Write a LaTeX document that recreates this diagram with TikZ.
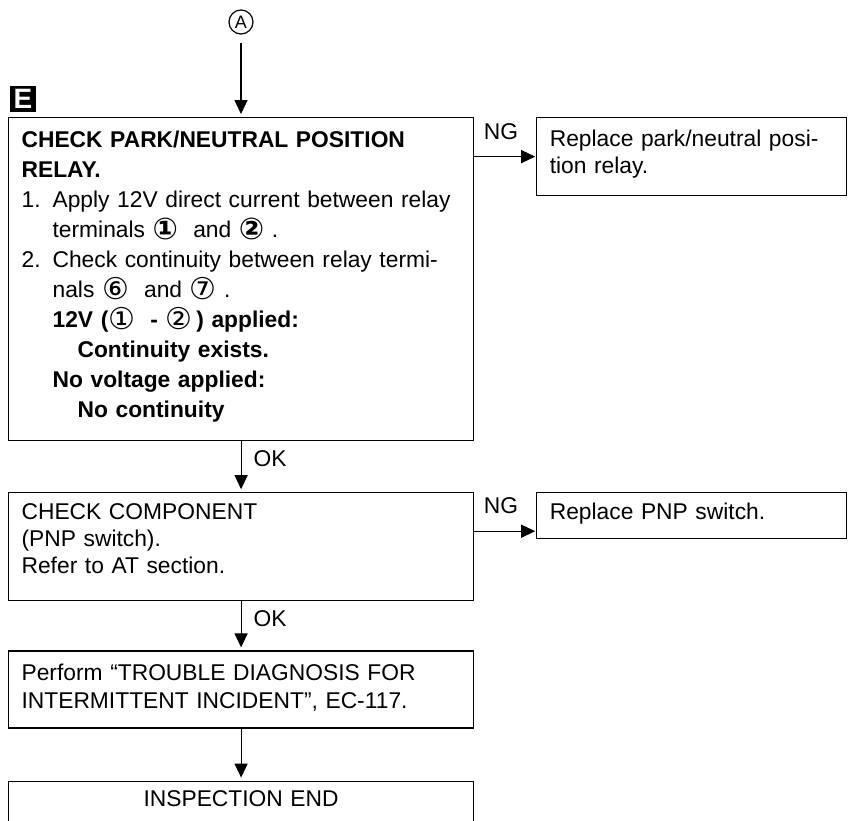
\documentclass[tikz,border=0pt]{standalone}
\usepackage{fontspec}
\setmainfont{Liberation Sans}
\newfontfamily\circfont{DejaVu Sans}
\usetikzlibrary{arrows.meta,positioning}
\newcommand{\circno}[1]{\smash{\raisebox{-1pt}{\circfont\mdseries\fontsize{15}{15}\selectfont #1}}}
\newcommand{\circbf}[1]{\smash{\raisebox{-1pt}{\circfont\bfseries\fontsize{15}{15}\selectfont #1}}}
\newcommand{\stepno}[1]{\makebox[15.5pt][l]{#1}}
\newcommand{\indA}{\hspace*{15.5pt}}
\newcommand{\indB}{\hspace*{28pt}}

\begin{document}
\begin{tikzpicture}[x=0.5pt, y=-0.5pt,
  every node/.style={font=\fontsize{11.4}{13.5}\selectfont},
  stepbox/.style={draw, line width=0.6pt, align=left, text width=219.5pt,
                  inner xsep=6.5pt, inner ysep=0pt},
  fixbox/.style={stepbox, text width=142pt},
  ngl/.style={inner sep=0pt, anchor=base west, xshift=4.5pt, yshift=8.75pt},
  okl/.style={inner sep=0pt, anchor=north west, xshift=6pt, yshift=-4.5pt},
  arr/.style={-{Triangle[length=7pt,width=6.5pt]}, line width=0.6pt, shorten >=1.5pt}]
\useasboundingbox (0,0) rectangle (848,821);
\clip (0,0) rectangle (848,821);
\node[circle, draw, line width=0.6pt, minimum size=12pt, inner sep=0pt,
      font=\fontsize{9}{9}\selectfont] (conA) at (241,22) {A};
\node[fill=black, text=white, minimum size=13pt, inner sep=0pt,
      font=\fontsize{14}{14}\selectfont\bfseries] (badge) at (23,99) {E};
\node[stepbox, anchor=north west, text height=15pt, text depth=146.5pt,
      font=\fontsize{11.4}{15}\selectfont] (relay) at (8,117)
  {\textbf{CHECK PARK/NEUTRAL POSITION}\\
   \textbf{RELAY.}\\
   \stepno{1.}Apply 12V direct current between relay\\
   \indA terminals \circbf{①}\ \ and \circbf{②}\ .\\
   \stepno{2.}Check continuity between relay termi-\\
   \indA nals \circno{⑥}\ \ and \circno{⑦}\ .\\
   \indA\textbf{12V (\circno{①}\ \ - \circno{②}\,) applied:}\\
   \indB\textbf{Continuity exists.}\\
   \indA\textbf{No voltage applied:}\\
   \indB\textbf{No continuity}};
\node[fixbox, right=31pt of relay.north east, anchor=north west,
      text height=14.5pt, text depth=24.5pt] (swap)
  {Replace park/neutral posi-\\tion relay.};
\node[stepbox, below=25.5pt of relay, text height=13.5pt, text depth=40.5pt] (comp)
  {CHECK COMPONENT\\(PNP switch).\\Refer to AT section.};
\node[fixbox, right=31pt of comp.north east, anchor=north west,
      text height=13.5pt, text depth=9.5pt] (pnp) {Replace PNP switch.};
\node[stepbox, below=24.5pt of comp, text height=14.5pt, text depth=24pt,
      font=\fontsize{11.4}{14}\selectfont] (trbl)
  {Perform “TROUBLE DIAGNOSIS FOR\\INTERMITTENT INCIDENT”, EC-117.};
\node[stepbox, below=26pt of trbl, align=center, text height=12.5pt, text depth=30pt] (fin)
  {INSPECTION END};
% connectors
\coordinate (ng2) at ([yshift=-19.5pt]comp.north east);
\draw[arr, shorten <=4pt] (conA) -- (conA |- relay.north);
\draw[arr, shorten >=0.5pt] (relay.east |- swap.west) -- node[ngl, pos=0] {NG} (swap.west);
\draw[arr] (relay) -- node[okl, pos=0] {OK} (comp);
\draw[arr, shorten >=0.5pt] (ng2) -- node[ngl, pos=0] {NG} (ng2 -| pnp.west);
\draw[arr] (comp) -- node[okl, pos=0] {OK} (trbl);
\draw[arr] (trbl) -- (fin);
\end{tikzpicture}
\end{document}
